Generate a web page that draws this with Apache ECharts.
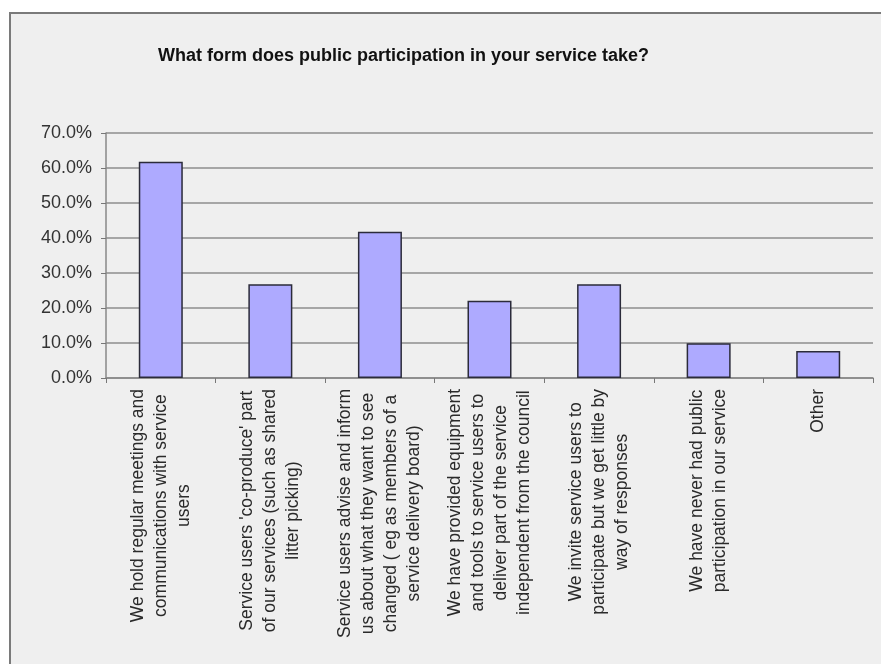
<!DOCTYPE html>
<html lang="en">

<head>
  <meta charset="UTF-8" />
  <title>Public participation</title>
  <script src="https://cdn.jsdelivr.net/npm/echarts@6/dist/echarts.min.js"></script>
  <style>
    html, body { margin: 0; padding: 0; background: #fff; }
    #chart { width: 881px; height: 664px; }
  </style>
</head>

<body>
  <div id="chart"></div>
</body>
<script type="text/javascript">
  // chart data
  var categories = [
    'We hold regular meetings and\ncommunications with service\nusers',
    "Service users 'co-produce' part\nof our services (such as shared\nlitter picking)",
    'Service users advise and inform\nus about what they want to see\nchanged ( eg as members of a\nservice delivery board)',
    'We have provided equipment\nand tools to service users to\ndeliver part of the service\nindependent from the council',
    'We invite service users to\nparticipate but we get little by\nway of responses',
    'We have never had public\nparticipation in our service',
    'Other'
  ];
  var percentValues = [61.8, 26.8, 41.8, 22.1, 26.8, 9.9, 7.7];
  var yTicks = [0, 10, 20, 30, 40, 50, 60, 70];

  var myChart = echarts.init(document.getElementById('chart'));

  // each line wrapped so lines are centred inside the rotated block
  function centreLines(text) {
    return text.split('\n').map(function (l) { return '{c|' + l + '}'; }).join('\n');
  }

  var option = {
    backgroundColor: '#ffffff',
    animation: false,
    graphic: [{
      type: 'rect',
      z: -10,
      shape: { x: 10, y: 13, width: 900, height: 700 },
      style: { fill: '#efefef', stroke: '#7a7a7a', lineWidth: 2 }
    }],
    title: {
      text: 'What form does public participation in your service take?',
      left: 153,
      top: 42,
      textStyle: {
        fontFamily: 'Liberation Sans, Arial, sans-serif',
        fontSize: 18,
        fontWeight: 'bold',
        color: '#111'
      }
    },
    grid: { left: 106, right: 8, top: 133, bottom: 286 },
    xAxis: {
      type: 'category',
      data: categories,
      axisLine: { lineStyle: { color: '#888', width: 1.5 } },
      axisTick: { show: true, length: 5, inside: false, lineStyle: { color: '#777' } },
      axisLabel: {
        interval: 0,
        rotate: 90,
        margin: 11,
        fontFamily: 'Liberation Sans, Arial, sans-serif',
        fontSize: 17.5,
        lineHeight: 23,
        color: '#2a2a2a',
        formatter: centreLines,
        rich: {
          c: {
            align: 'center',
            fontFamily: 'Liberation Sans, Arial, sans-serif',
            fontSize: 17.5,
            lineHeight: 23,
            color: '#2a2a2a'
          }
        }
      }
    },
    yAxis: {
      type: 'value',
      min: yTicks[0],
      max: yTicks[yTicks.length - 1],
      interval: 10,
      axisLine: { show: true, lineStyle: { color: '#888', width: 1.5 } },
      axisTick: { show: true, length: 5, lineStyle: { color: '#777' } },
      splitLine: { lineStyle: { color: '#8e8e8e', width: 1.5 } },
      axisLabel: {
        margin: 14,
        fontFamily: 'Liberation Sans, Arial, sans-serif',
        fontSize: 18,
        color: '#333',
        formatter: function (v) { return v.toFixed(1) + '%'; }
      }
    },
    series: [{
      type: 'bar',
      data: percentValues,
      barWidth: 44,
      itemStyle: {
        color: '#aeaaff',
        borderColor: '#2b2b3a',
        borderWidth: 1.5
      }
    }]
  };

  myChart.setOption(option);
</script>

</html>
